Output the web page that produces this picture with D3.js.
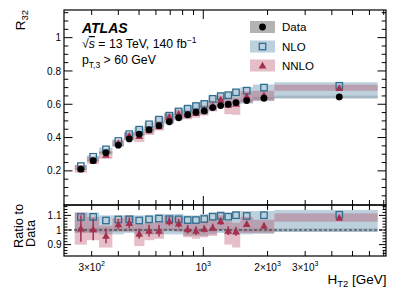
<!DOCTYPE html>
<html><head><meta charset="utf-8">
<script src="https://cdn.jsdelivr.net/npm/d3@7"></script>
<style>
html,body{margin:0;padding:0;background:#fff;}
svg{display:block;font-family:"Liberation Sans",Arial,Helvetica,sans-serif;}
</style></head>
<body>
<svg id="c" width="407" height="292"></svg>
<script>
// ---------------- data ----------------
const binEdges   = [250,285,325,375,425,475,530,590,655,730,805,885,965,1055,1160,1255,1365,1490,1710,2150,6560];
const htCenters  = [267,305,350,400,450,501,557,620,693,767,845,924,1011,1107,1206,1309,1423,1597,1924,4335];
const dataR32    = [0.210,0.261,0.309,0.354,0.392,0.420,0.447,0.471,0.495,0.519,0.537,0.552,0.560,0.580,0.592,0.600,0.610,0.622,0.636,0.644];
const dataRelErr = [0.015,0.012,0.012,0.01,0.01,0.01,0.01,0.01,0.01,0.01,0.01,0.01,0.01,0.01,0.01,0.01,0.01,0.01,0.01,0.012];
const nloRatio   = [1.089,1.090,1.065,1.072,1.073,1.065,1.073,1.078,1.074,1.073,1.068,1.068,1.075,1.091,1.096,1.091,1.101,1.096,1.101,1.104];
const nloBandLo  = [0.98,0.98,0.97,0.97,0.98,0.97,0.97,0.97,0.97,0.97,0.96,0.96,0.96,0.97,0.98,0.97,0.97,0.97,0.973,0.986];
const nloBandHi  = [1.12,1.12,1.10,1.10,1.10,1.10,1.10,1.11,1.11,1.11,1.10,1.10,1.11,1.12,1.13,1.12,1.13,1.13,1.13,1.137];
const nnloRatio  = [1.010,1.005,0.960,1.040,1.048,0.975,0.995,0.995,1.060,1.045,1.005,0.995,1.008,1.018,1.060,0.995,0.990,1.042,1.030,1.084];
const nnloStat   = [0.09,0.075,0.05,0.035,0.037,0.035,0.04,0.04,0.03,0.03,0.03,0.03,0.025,0.025,0.025,0.03,0.03,0.02,0.02,0.01];
const nnloBandLo = [0.90,0.93,0.88,0.99,0.99,0.89,0.93,0.94,1.00,0.99,0.95,0.94,0.95,0.96,1.00,0.90,0.88,0.98,0.98,1.057];
const nnloBandHi = [1.12,1.09,1.03,1.08,1.10,1.04,1.05,1.06,1.10,1.09,1.05,1.05,1.06,1.07,1.10,1.06,1.05,1.09,1.07,1.114];
const yTicksTop  = [0.2,0.4,0.6,0.8,1];
const yTicksRat  = [0.9,1,1.1];
const xLabelTicks = [{v:300,m:"3×10",e:"2"},{v:1000,m:"10",e:"3"},{v:2000,m:"2×10",e:"3"},{v:3000,m:"3×10",e:"3"}];
const legendItems = ["Data","NLO","NNLO"];

// ---------------- layout ----------------
const L=64, R=386, T1=10, B1=205, T2=205, B2=256;
const svg=d3.select("#c");
const x=d3.scaleLog().domain([222.6,7174]).range([L,R]);
const y=d3.scaleLinear().domain([-0.005,1.166]).range([B1,T1]);
const yr=d3.scaleLinear().domain([0.822,1.171]).range([B2,T2]);

const cData="#000", cNLO="#2f6d8f", cNNLO="#a5304e";
const fNLO="#8fb3c7", fNNLO="#b4455f", fData="#8c8c8c";

const idx=d3.range(dataR32.length);
svg.append("clipPath").attr("id","cp1").append("rect").attr("x",L).attr("y",T1).attr("width",R-L).attr("height",B1-T1);
svg.append("clipPath").attr("id","cp2").append("rect").attr("x",L).attr("y",T2).attr("width",R-L).attr("height",B2-T2);

function bands(g, ys, loF, hiF, fill, op){
  g.append("g").selectAll("rect").data(idx).join("rect")
    .attr("x",i=>x(binEdges[i])).attr("width",i=>x(binEdges[i+1])-x(binEdges[i]))
    .attr("y",i=>ys(hiF(i))).attr("height",i=>ys(loF(i))-ys(hiF(i)))
    .attr("fill",fill).attr("fill-opacity",op);
}
const tri=d3.symbol().type(d3.symbolTriangle).size(26);

// ---------------- top panel ----------------
const g1=svg.append("g").attr("clip-path","url(#cp1)");
bands(g1,y,i=>dataR32[i]*(1-dataRelErr[i]),i=>dataR32[i]*(1+dataRelErr[i]),fData,0.55);
bands(g1,y,i=>dataR32[i]*nloBandLo[i],i=>dataR32[i]*nloBandHi[i],fNLO,0.6);
bands(g1,y,i=>dataR32[i]*nnloBandLo[i],i=>dataR32[i]*nnloBandHi[i],fNNLO,0.35);
g1.append("g").selectAll("rect").data(idx).join("rect")
  .attr("x",i=>x(htCenters[i])-3.2).attr("y",i=>y(dataR32[i]*nloRatio[i])-3.2)
  .attr("width",6.4).attr("height",6.4).attr("fill","none").attr("stroke",cNLO).attr("stroke-width",1.3);
g1.append("g").selectAll("path").data(idx).join("path")
  .attr("d",tri).attr("transform",i=>`translate(${x(htCenters[i])},${y(dataR32[i]*nnloRatio[i])+0.8})`).attr("fill",cNNLO);
g1.append("g").selectAll("circle").data(idx).join("circle")
  .attr("cx",i=>x(htCenters[i])).attr("cy",i=>y(dataR32[i])).attr("r",3.4).attr("fill",cData);

// ---------------- ratio panel ----------------
const g2=svg.append("g").attr("clip-path","url(#cp2)");
bands(g2,yr,i=>1-dataRelErr[i],i=>1+dataRelErr[i],fData,0.55);
bands(g2,yr,i=>nloBandLo[i],i=>nloBandHi[i],fNLO,0.6);
bands(g2,yr,i=>nnloBandLo[i],i=>nnloBandHi[i],fNNLO,0.35);
g2.append("line").attr("x1",L).attr("x2",R).attr("y1",yr(1)).attr("y2",yr(1))
  .attr("stroke","#333").attr("stroke-dasharray","3,2").attr("stroke-width",1);
g2.append("g").selectAll("line").data(idx).join("line")
  .attr("x1",i=>x(htCenters[i])).attr("x2",i=>x(htCenters[i]))
  .attr("y1",i=>yr(nnloRatio[i]-nnloStat[i])).attr("y2",i=>yr(nnloRatio[i]+nnloStat[i]))
  .attr("stroke",cNNLO).attr("stroke-width",1.5);
g2.append("g").selectAll("rect").data(idx).join("rect")
  .attr("x",i=>x(htCenters[i])-3.2).attr("y",i=>yr(nloRatio[i])-3.2)
  .attr("width",6.4).attr("height",6.4).attr("fill","none").attr("stroke",cNLO).attr("stroke-width",1.3);
g2.append("g").selectAll("path").data(idx).join("path")
  .attr("d",tri).attr("transform",i=>`translate(${x(htCenters[i])},${yr(nnloRatio[i])+0.8})`).attr("fill",cNNLO);

// ---------------- axes / ticks ----------------
const xMinor=[300,400,500,600,700,800,900,2000,3000,4000,5000,6000,7000];
const xMajor=[1000];
function xTicks(yBase, dir, vals, len){
  svg.append("g").selectAll("line").data(vals).join("line")
    .attr("x1",d=>x(d)).attr("x2",d=>x(d)).attr("y1",yBase).attr("y2",yBase+dir*len)
    .attr("stroke","#000").attr("stroke-width",1);
}
function yTicks(scale, vals, len){
  svg.append("g").selectAll("line").data(vals).join("line")
    .attr("x1",L).attr("x2",L+len).attr("y1",d=>scale(d)).attr("y2",d=>scale(d)).attr("stroke","#000");
  svg.append("g").selectAll("line").data(vals).join("line")
    .attr("x1",R).attr("x2",R-len).attr("y1",d=>scale(d)).attr("y2",d=>scale(d)).attr("stroke","#000");
}
xTicks(B1,-1,xMinor,5); xTicks(B1,-1,xMajor,9);
xTicks(T1,1,xMinor,5); xTicks(T1,1,xMajor,9);
yTicks(y,d3.range(1,24).map(k=>k*0.05).filter(v=>!yTicksTop.some(t=>Math.abs(t-v)<1e-6)),4.3);
yTicks(y,yTicksTop,8.5);
xTicks(B2,-1,xMinor,5); xTicks(B2,-1,xMajor,9);
xTicks(T2,1,xMinor,5); xTicks(T2,1,xMajor,9);
yTicks(yr,d3.range(0.84,1.17,0.02).filter(v=>!yTicksRat.some(t=>Math.abs(t-v)<1e-6)),3.5);
yTicks(yr,yTicksRat,7);

svg.append("rect").attr("x",L).attr("y",T1).attr("width",R-L).attr("height",B1-T1).attr("fill","none").attr("stroke","#000").attr("stroke-width",1.2);
svg.append("rect").attr("x",L).attr("y",T2).attr("width",R-L).attr("height",B2-T2).attr("fill","none").attr("stroke","#000").attr("stroke-width",1.2);

// tick labels
svg.append("g").selectAll("text").data(yTicksTop).join("text")
  .attr("x",61).attr("y",d=>y(d)+3.6).attr("text-anchor","end").attr("font-size",10).text(d=>d3.format("~g")(d));
svg.append("g").selectAll("text").data(yTicksRat).join("text")
  .attr("x",61.5).attr("y",d=>yr(d)+3.6).attr("text-anchor","end").attr("font-size",10).text(d=>d3.format("~g")(d));
const xl=svg.append("g").selectAll("text").data(xLabelTicks).join("text")
  .attr("x",d=>x(d.v)).attr("y",270.5).attr("text-anchor","middle").attr("font-size",10);
xl.append("tspan").text(d=>d.m);
xl.append("tspan").attr("font-size",7).attr("dy",-4.2).text(d=>d.e);

// axis titles
const ty=svg.append("text").attr("transform","translate(24.5,10) rotate(-90)").attr("text-anchor","end").attr("font-size",13.5);
ty.append("tspan").text("R");
ty.append("tspan").attr("font-size",9.5).attr("dy",3).text("32");
svg.append("text").attr("transform","translate(22.5,248) rotate(-90)").attr("font-size",12.8).text("Ratio to");
svg.append("text").attr("transform","translate(35,247) rotate(-90)").attr("font-size",12.8).text("Data");
const tx=svg.append("text").attr("x",386.5).attr("y",283.5).attr("text-anchor","end").attr("font-size",13.5);
tx.append("tspan").text("H");
tx.append("tspan").attr("font-size",9.5).attr("dy",3).text("T2");
tx.append("tspan").attr("dy",-3).text(" [GeV]");

// ATLAS labels
svg.append("text").attr("x",82).attr("y",32.5).attr("font-size",14).attr("font-weight","bold").attr("font-style","italic").text("ATLAS");
const t2=svg.append("text").attr("x",82).attr("y",48).attr("font-size",12.3);
t2.append("tspan").text("√");
t2.append("tspan").attr("font-style","italic").attr("text-decoration","overline").text("s");
t2.append("tspan").text(" = 13 TeV, 140 fb");
t2.append("tspan").attr("font-size",8.5).attr("dy",-5).text("−1");
const t3=svg.append("text").attr("x",82).attr("y",64).attr("font-size",12.3);
t3.append("tspan").text("p");
t3.append("tspan").attr("font-size",8.5).attr("dy",3.5).text("T,3");
t3.append("tspan").attr("dy",-3.5).text(" > 60 GeV");

// legend
const ly=[27,46.5,65.5];
const lg=svg.append("g").selectAll("g").data(legendItems).join("g").attr("transform",(d,i)=>`translate(0,${ly[i]})`);
lg.append("rect").attr("x",250).attr("y",-6).attr("width",25).attr("height",12)
  .attr("fill",(d,i)=>["#b3b3b3","#bcd1dd","#e5bec7"][i]);
lg.filter((d,i)=>i===0).append("circle").attr("cx",262.5).attr("cy",0).attr("r",3.4).attr("fill",cData);
lg.filter((d,i)=>i===1).append("rect").attr("x",259.3).attr("y",-3.2).attr("width",6.4).attr("height",6.4).attr("fill","none").attr("stroke",cNLO).attr("stroke-width",1.3);
lg.filter((d,i)=>i===2).append("path").attr("d",tri).attr("transform","translate(262.5,0.8)").attr("fill",cNNLO);
lg.append("text").attr("x",282).attr("y",4).attr("font-size",11.5).text(d=>d);
</script>
</body></html>
